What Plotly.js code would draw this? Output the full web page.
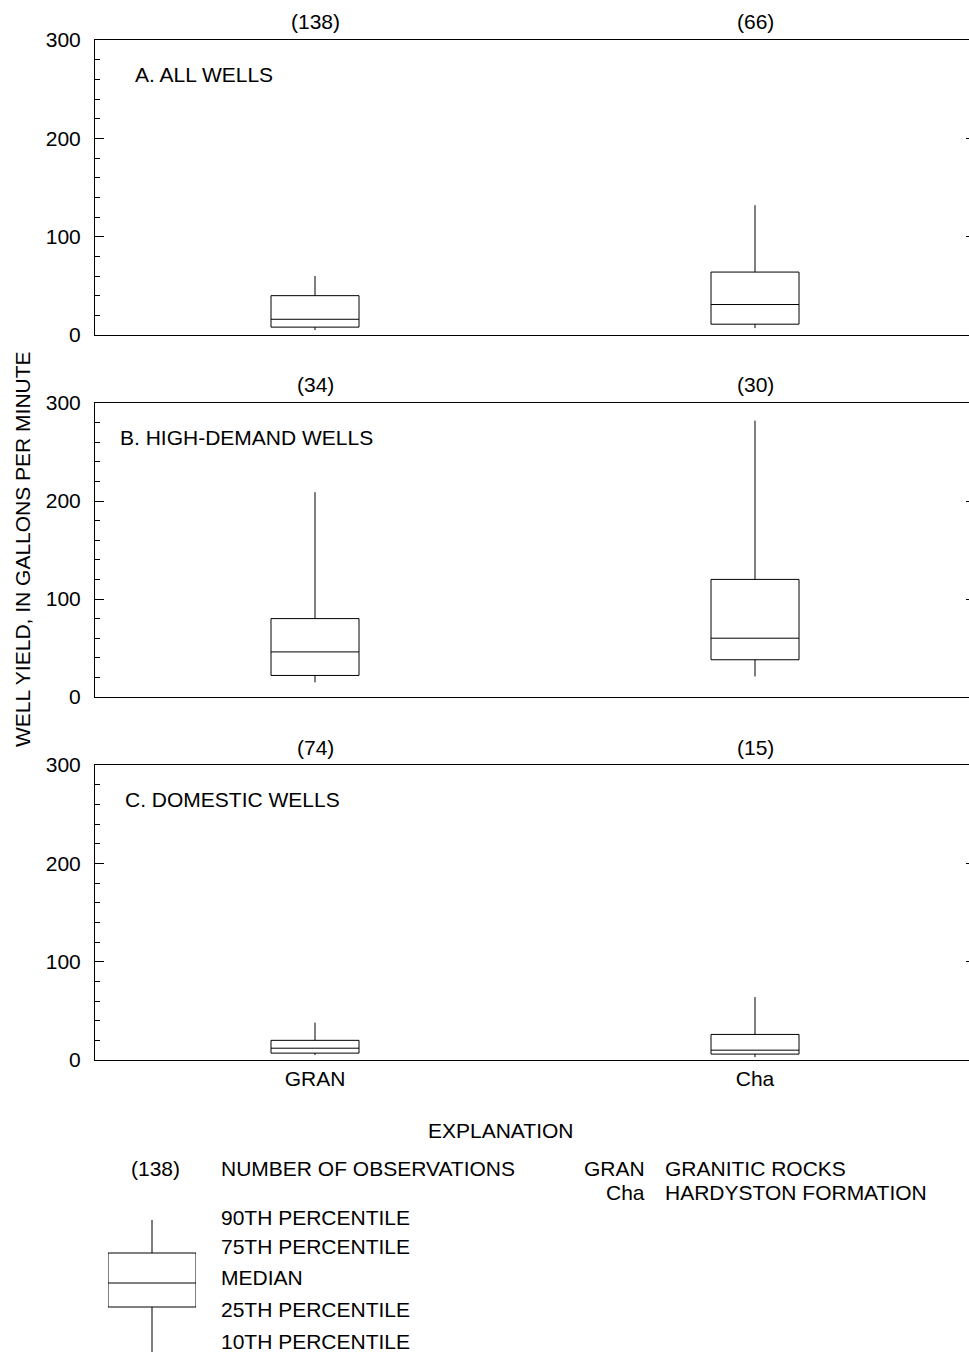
<!DOCTYPE html>
<html>
<head>
<meta charset="utf-8">
<script src="https://cdn.plot.ly/plotly-3.0.1.min.js"></script>
<style>
html, body { margin: 0; padding: 0; overflow: hidden; background: #fff; }
#chart { width: 975px; height: 1353px; }
</style>
</head>
<body>
<div id="chart"></div>
<script>
// Categories (geologic units)
const categories = ['GRAN', 'Cha'];

// A. All wells
const countsA = [138, 66];
const p10A = [5, 7];
const q1A = [8, 11];
const medA = [16, 31];
const q3A = [40, 64];
const p90A = [60, 132];

// B. High-demand wells
const countsB = [34, 30];
const p10B = [15, 21];
const q1B = [22, 38];
const medB = [46, 60];
const q3B = [80, 120];
const p90B = [209, 282];

// C. Domestic wells
const countsC = [74, 15];
const p10C = [5, 3];
const q1C = [7, 6];
const medC = [12, 10];
const q3C = [20, 26];
const p90C = [38, 64];

// Explanation sample box (schematic)
const explCat = ['sample'];
const explP10 = [0];
const explQ1 = [45];
const explMed = [69];
const explQ3 = [99];
const explP90 = [132];

const panelTitles = ['A. ALL WELLS', 'B. HIGH-DEMAND WELLS', 'C. DOMESTIC WELLS'];
const yTitle = 'WELL YIELD, IN GALLONS PER MINUTE';
const unitCodes = ['GRAN', 'Cha'];
const unitNames = ['GRANITIC ROCKS', 'HARDYSTON FORMATION'];
const explLabels = ['90TH PERCENTILE', '75TH PERCENTILE', 'MEDIAN', '25TH PERCENTILE', '10TH PERCENTILE'];

const FONT = 'Liberation Sans, Arial, sans-serif';
const FS = 21;
const W = 975, H = 1353, L = 95, PW = 880;
const px = X => (X - L) / PW;          // pixel x -> paper x
const py = Y => (H - Y) / H;           // pixel y -> paper y

function boxTrace(xa, ya, q1, med, q3, lo, hi, x) {
  return {
    type: 'box', xaxis: xa, yaxis: ya,
    x: x, q1: q1, median: med, q3: q3, lowerfence: lo, upperfence: hi,
    width: x.length === 1 ? 1 : 0.2,
    whiskerwidth: 0, boxpoints: false,
    fillcolor: 'rgba(0,0,0,0)',
    line: { color: '#000', width: 1 },
    hoverinfo: 'skip', showlegend: false
  };
}

const data = [
  boxTrace('x', 'y', q1A, medA, q3A, p10A, p90A, categories),
  boxTrace('x2', 'y2', q1B, medB, q3B, p10B, p90B, categories),
  boxTrace('x3', 'y3', q1C, medC, q3C, p10C, p90C, categories),
  boxTrace('x4', 'y4', explQ1, explMed, explQ3, explP10, explP90, explCat)
];

function xAxis(anchor, showLabels) {
  return {
    anchor: anchor, domain: [0, 1], range: [-0.5, 1.5], type: 'category',
    showline: true, mirror: true, linecolor: '#000', linewidth: 1,
    ticks: '', showgrid: false, zeroline: false,
    showticklabels: showLabels,
    tickfont: { family: FONT, size: FS, color: '#000' },
    fixedrange: true
  };
}
function yAxis(anchor, dom) {
  return {
    anchor: anchor, domain: dom, range: [0, 300],
    tickvals: [0, 100, 200, 300],
    ticks: 'inside', ticklen: 9, tickwidth: 1, tickcolor: '#000',
    minor: { dtick: 20, tick0: 0, ticks: 'inside', ticklen: 5, tickwidth: 1, tickcolor: '#000', showgrid: false },
    showline: true, mirror: 'ticks', linecolor: '#000', linewidth: 1,
    showgrid: false, zeroline: false,
    tickfont: { family: FONT, size: FS, color: '#000' },
    ticklabelstandoff: 9,
    fixedrange: true
  };
}

const domA = [py(335), py(40)];
const domB = [py(697), py(403)];
const domC = [py(1060), py(765)];

const ann = [];
function txt(text, x, y, xanchor, opts) {
  ann.push(Object.assign({
    text: text, x: x, y: y, xref: 'paper', yref: 'paper',
    xanchor: xanchor, yanchor: 'middle', showarrow: false,
    font: { family: FONT, size: FS, color: '#000' }
  }, opts || {}));
}

// counts above each panel
const countSets = [[countsA, 22], [countsB, 384], [countsC, 747]];
const xrefs = ['x', 'x2', 'x3'];
countSets.forEach((cs, i) => {
  cs[0].forEach((n, j) => {
    ann.push({
      text: '(' + n + ')', x: categories[j], xref: xrefs[i],
      y: py(cs[1]), yref: 'paper', xanchor: 'center', yanchor: 'middle',
      showarrow: false, font: { family: FONT, size: FS, color: '#000' }
    });
  });
});

// panel titles
txt(panelTitles[0], px(133), py(75), 'left');
txt(panelTitles[1], px(118), py(437), 'left');
txt(panelTitles[2], px(123), py(799), 'left');

// y title
txt(yTitle, px(22), py(549), 'center', { textangle: -90 });

// explanation
txt('EXPLANATION', px(500), py(1130), 'center');
txt('(' + countsA[0] + ')', px(155), py(1168), 'center');
txt('NUMBER OF OBSERVATIONS', px(219), py(1168), 'left');
txt(unitCodes[0], px(647), py(1168), 'right');
txt(unitCodes[1], px(647), py(1192), 'right');
txt(unitNames[0], px(663), py(1168), 'left');
txt(unitNames[1], px(663), py(1192), 'left');
const explY = [1217, 1246, 1277, 1309, 1341];
explLabels.forEach((t, i) => txt(t, px(219), py(explY[i]), 'left'));

const layout = {
  width: W, height: H,
  margin: { l: L, r: 0, t: 0, b: 0, pad: 0 },
  paper_bgcolor: '#fff', plot_bgcolor: 'rgba(0,0,0,0)',
  showlegend: false,
  font: { family: FONT, size: FS, color: '#000' },
  xaxis: xAxis('y', false),
  xaxis2: xAxis('y2', false),
  xaxis3: xAxis('y3', true),
  yaxis: yAxis('x', domA),
  yaxis2: yAxis('x2', domB),
  yaxis3: yAxis('x3', domC),
  xaxis4: { anchor: 'y4', domain: [px(108), px(196)], range: [-0.5, 0.5], visible: false, fixedrange: true },
  yaxis4: { anchor: 'x4', domain: [py(1352), py(1220)], range: [0, 132], visible: false, fixedrange: true },
  annotations: ann
};

Plotly.newPlot('chart', data, layout, { staticPlot: true, displayModeBar: false });
</script>
</body>
</html>
